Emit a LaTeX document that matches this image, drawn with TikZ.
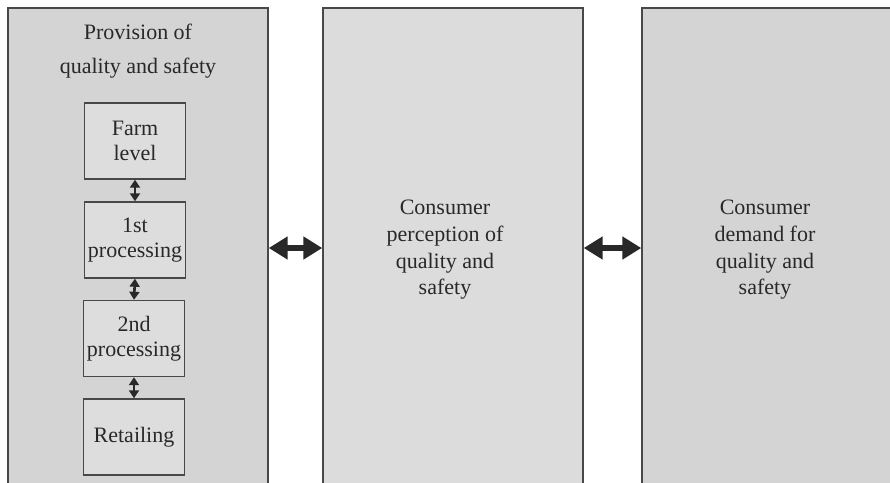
\documentclass[tikz,border=0pt]{standalone}
\usepackage{fontspec}
\setmainfont{Liberation Serif}
\usetikzlibrary{arrows.meta}
\definecolor{bigfill}{RGB}{212,212,212}
\definecolor{midfill}{RGB}{220,220,220}
\definecolor{smallfill}{RGB}{221,221,221}
\definecolor{edge}{RGB}{72,72,72}
\definecolor{ink}{RGB}{40,40,40}
\begin{document}
\begin{tikzpicture}[x=1pt,y=-1pt,
  bigbox/.style={draw=edge,line width=1.4pt,minimum width=260pt,minimum height=480pt,inner sep=0pt},
  smallbox/.style={draw=edge,line width=1.4pt,fill=smallfill,minimum width=101pt,minimum height=76pt,inner sep=0pt,align=center,text=ink,font=\fontsize{22}{25}\selectfont},
  label/.style={align=center,text=ink,inner sep=0pt,font=\fontsize{22}{26.7}\selectfont},
  bigarrow/.style={line width=6pt,draw=ink,{Triangle[length=19pt,width=22pt]}-{Triangle[length=19pt,width=22pt]},shorten <=0pt,shorten >=0pt},
  smallarrow/.style={line width=2.6pt,draw=ink,{Triangle[length=8pt,width=10pt]}-{Triangle[length=8pt,width=10pt]}}]
\useasboundingbox (0,0) rectangle (890,482);
\clip (0,0) rectangle (890,482);
\node[bigbox,fill=bigfill] (prov) at (138,248) {};
\node[bigbox,fill=midfill] (perc) at (453,248) {};
\node[bigbox,fill=bigfill] (dem) at (772,248) {};
\node[label,font=\fontsize{22}{34}\selectfont] (provtitle) at (138,51) {Provision of\\quality and safety};
\node[smallbox] (farm) at (135,141) {Farm\\level};
\node[smallbox] (first) at (135,240) {1st\\processing};
\node[smallbox] (second) at (134,338.5) {2nd\\processing};
\node[smallbox] (retail) at (134,437) {Retailing};
\node[label] (perctext) at (445,250) {Consumer\\perception of\\quality and\\safety};
\node[label] (demtext) at (765,250) {Consumer\\demand for\\quality and\\safety};
\draw[smallarrow] (farm.south) -- (first.north);
\draw[smallarrow] (first.south) -- (second.north);
\draw[smallarrow] (second.south) -- (retail.north);
\draw[bigarrow] (prov.east) -- (perc.west);
\draw[bigarrow] (perc.east) -- (dem.west);
\end{tikzpicture}
\end{document}
